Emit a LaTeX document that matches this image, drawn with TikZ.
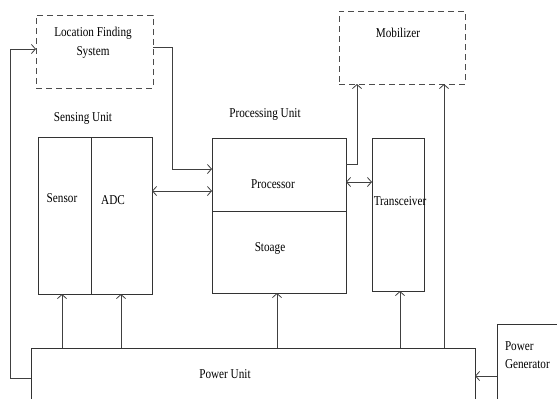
\documentclass[tikz,border=0pt]{standalone}
\usepackage{fontspec}
\setmainfont{Liberation Serif}[FakeStretch=0.83]
\usetikzlibrary{arrows.meta}
\begin{document}
\begin{tikzpicture}[x=1pt,y=-1pt,
  every node/.style={inner sep=0pt,outer sep=0pt},
  box/.style={draw=black!80,line width=0.8pt,anchor=north west},
  dbox/.style={box,dash pattern=on 6pt off 4pt,draw=black!70},
  lbl/.style={font=\fontsize{13.5}{18.5}\selectfont,text=black},
  conn/.style={draw=black!75,line width=0.8pt},
  >={Straight Barb[length=4pt,width=9pt]}]
\clip (0,0) rectangle (557,399);
\fill[white] (0,0) rectangle (557,399);
% boxes
\node[dbox,minimum width=117pt,minimum height=73pt] (lfs) at (36,15) {};
\node[dbox,minimum width=126pt,minimum height=73pt] (mob) at (339,11) {};
\node[box,minimum width=53pt,minimum height=157pt] (sensor) at (38,137) {};
\node[box,minimum width=61pt,minimum height=157pt] (adc) at (91,137) {};
\node[box,minimum width=134pt,minimum height=73pt] (proc) at (212,138) {};
\node[box,minimum width=134pt,minimum height=82pt] (stor) at (212,211) {};
\node[box,minimum width=52pt,minimum height=153pt] (trx) at (372,138) {};
\node[box,minimum width=444pt,minimum height=70pt] (pu) at (31,348) {};
\node[box,minimum width=80pt,minimum height=90pt] (gen) at (497,324.5) {};
% texts
\node[lbl,align=center] (tlfs) at (93,43) {Location Finding\\System};
\node[lbl] (tmob) at (398,33) {Mobilizer};
\node[lbl] (tsu) at (83,118) {Sensing Unit};
\node[lbl] (tpu) at (265,114) {Processing Unit};
\node[lbl] (tsensor) at (62,198) {Sensor};
\node[lbl] (tadc) at (113,200) {ADC};
\node[lbl] (tproc) at (273,184) {Processor};
\node[lbl] (tstor) at (270,248) {Stoage};
\node[lbl] (ttrx) at (400,201) {Transceiver};
\node[lbl] (tpow) at (225,374) {Power Unit};
\node[lbl,align=left,anchor=west] (tgen) at (505,355) {Power\\Generator};
% connectors
\draw[conn,->] (pu.west |- 0,378) -- (10.7,378) -- (10.7,49) -- (lfs.west |- 0,49);
\draw[conn,->] (lfs.east |- 0,47) -- (172.5,47) -- (172.5,169) -- (proc.west |- 0,169);
\draw[conn,<->] (adc.east |- 0,191) -- (proc.west |- 0,191);
\draw[conn,->] (proc.east |- 0,164) -- (357,164) -- (357,0 |- mob.south);
\draw[conn,<->] (proc.east |- 0,182) -- (trx.west |- 0,182);
\draw[conn,->] (444,0 |- pu.north) -- (444,0 |- mob.south);
\draw[conn,->] (62,0 |- pu.north) -- (62,0 |- sensor.south);
\draw[conn,->] (121,0 |- pu.north) -- (121,0 |- adc.south);
\draw[conn,->] (277,0 |- pu.north) -- (277,0 |- stor.south);
\draw[conn,->] (400,0 |- pu.north) -- (400,0 |- trx.south);
\draw[conn,->] (gen.west |- 0,376) -- (pu.east |- 0,376);
\end{tikzpicture}
\end{document}
